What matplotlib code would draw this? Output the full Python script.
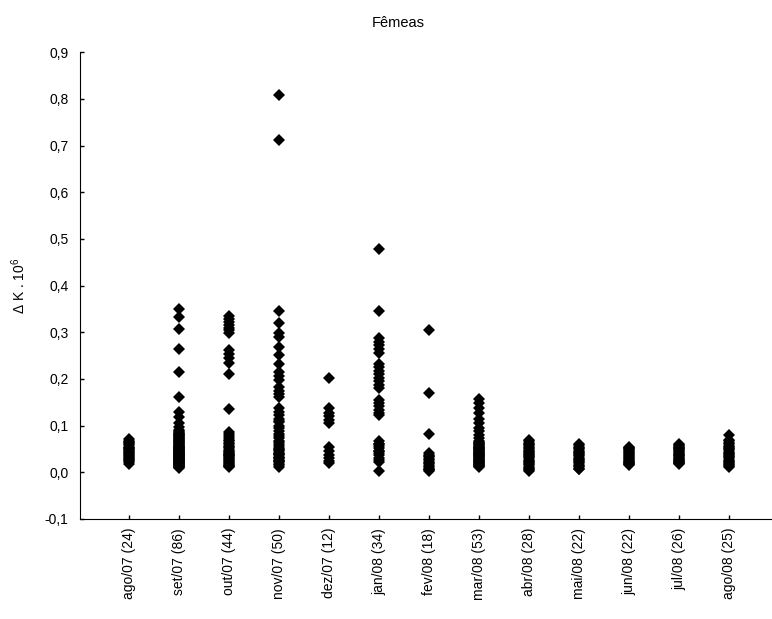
import matplotlib
matplotlib.use('Agg')
import matplotlib.pyplot as plt

plt.rcParams['font.family'] = ['Liberation Sans', 'DejaVu Sans']
plt.rcParams['mathtext.default'] = 'regular'

# categories (month / sample size)
labels = ['ago/07 (24)', 'set/07 (86)', 'out/07 (44)', 'nov/07 (50)', 'dez/07 (12)',
          'jan/08 (34)', 'fev/08 (18)', 'mar/08 (53)', 'abr/08 (28)', 'mai/08 (22)',
          'jun/08 (22)', 'jul/08 (26)', 'ago/08 (25)']

# delta K values
ago07 = [0.071, 0.068, 0.065, 0.062, 0.060, 0.058, 0.055, 0.053, 0.051, 0.049, 0.047, 0.045,
         0.043, 0.041, 0.039, 0.037, 0.035, 0.033, 0.031, 0.029, 0.026, 0.024, 0.021, 0.018]
set07 = [0.350, 0.333, 0.307, 0.265, 0.215, 0.161, 0.130, 0.119, 0.105, 0.098,
         0.090, 0.088, 0.086, 0.085, 0.083, 0.082, 0.080, 0.079, 0.077, 0.076, 0.075, 0.073,
         0.072, 0.071, 0.069, 0.068, 0.067, 0.065, 0.064, 0.063, 0.061, 0.060, 0.059, 0.057,
         0.056, 0.055, 0.053, 0.052, 0.051, 0.050, 0.048, 0.047, 0.046, 0.045, 0.044, 0.043,
         0.042, 0.041, 0.040, 0.039, 0.038, 0.037, 0.036, 0.035, 0.034, 0.033, 0.032, 0.031,
         0.030, 0.029, 0.028, 0.027, 0.026, 0.025, 0.024, 0.023, 0.022, 0.021, 0.020, 0.019,
         0.018, 0.017, 0.016, 0.015, 0.014, 0.013, 0.012, 0.011, 0.010, 0.054, 0.049, 0.043,
         0.037, 0.031, 0.027, 0.022]
out07 = [0.334, 0.328, 0.322, 0.316, 0.310, 0.304, 0.298, 0.262, 0.253, 0.244, 0.235, 0.210,
         0.136, 0.087, 0.082, 0.078, 0.074, 0.070, 0.066, 0.063, 0.060, 0.057, 0.054, 0.051,
         0.048, 0.046, 0.044, 0.042, 0.040, 0.038, 0.036, 0.034, 0.032, 0.030, 0.028, 0.026,
         0.024, 0.022, 0.020, 0.018, 0.016, 0.014, 0.013, 0.012]
nov07 = [0.809, 0.713, 0.346, 0.319, 0.298, 0.290, 0.269, 0.251, 0.233, 0.215, 0.206, 0.198,
         0.183, 0.175, 0.168, 0.162, 0.137, 0.130, 0.122, 0.115, 0.108, 0.100, 0.094, 0.083,
         0.078, 0.073, 0.068, 0.064, 0.060, 0.056, 0.052, 0.048, 0.045, 0.042, 0.039, 0.036,
         0.033, 0.030, 0.027, 0.024, 0.021, 0.018, 0.015, 0.012, 0.110, 0.089, 0.050, 0.040,
         0.031, 0.025]
dez07 = [0.203, 0.137, 0.128, 0.120, 0.112, 0.105, 0.055, 0.046, 0.038, 0.031, 0.025, 0.020]
jan08 = [0.478, 0.345, 0.287, 0.280, 0.272, 0.264, 0.255, 0.232, 0.225, 0.218, 0.210, 0.203,
         0.196, 0.188, 0.180, 0.155, 0.148, 0.141, 0.134, 0.127, 0.122, 0.066, 0.061, 0.056,
         0.051, 0.046, 0.041, 0.036, 0.031, 0.026, 0.022, 0.060, 0.045, 0.003]
fev08 = [0.305, 0.169, 0.083, 0.041, 0.038, 0.035, 0.032, 0.029, 0.026, 0.023, 0.020, 0.017,
         0.014, 0.011, 0.008, 0.006, 0.004, 0.003]
mar08 = [0.158, 0.148, 0.137, 0.126, 0.115, 0.105, 0.095, 0.088, 0.080, 0.073, 0.067,
         0.064, 0.063, 0.061, 0.060, 0.058, 0.057, 0.055, 0.054, 0.052, 0.051, 0.049, 0.048,
         0.046, 0.045, 0.043, 0.042, 0.040, 0.039, 0.037, 0.036, 0.034, 0.033, 0.031, 0.030,
         0.028, 0.027, 0.025, 0.024, 0.022, 0.021, 0.019, 0.018, 0.016, 0.015, 0.014, 0.013,
         0.012, 0.050, 0.041, 0.035, 0.026, 0.020]
abr08 = [0.069, 0.066, 0.063, 0.061, 0.058, 0.056, 0.053, 0.051, 0.048, 0.046, 0.044, 0.041,
         0.039, 0.037, 0.034, 0.032, 0.030, 0.027, 0.025, 0.022, 0.020, 0.017, 0.015, 0.012,
         0.010, 0.007, 0.004, 0.002]
mai08 = [0.061, 0.058, 0.055, 0.052, 0.049, 0.046, 0.044, 0.041, 0.039, 0.036, 0.034, 0.031,
         0.029, 0.026, 0.024, 0.021, 0.019, 0.016, 0.014, 0.011, 0.008, 0.006]
jun08 = [0.055, 0.053, 0.051, 0.049, 0.047, 0.045, 0.043, 0.041, 0.039, 0.037, 0.035, 0.033,
         0.031, 0.029, 0.027, 0.025, 0.023, 0.021, 0.019, 0.018, 0.017, 0.016]
jul08 = [0.061, 0.059, 0.057, 0.055, 0.053, 0.051, 0.049, 0.047, 0.045, 0.043, 0.041, 0.040,
         0.038, 0.036, 0.034, 0.033, 0.031, 0.029, 0.027, 0.026, 0.024, 0.023, 0.022, 0.020,
         0.019, 0.018]
ago08 = [0.080, 0.069, 0.066, 0.063, 0.060, 0.057, 0.055, 0.052, 0.049, 0.047, 0.044, 0.042,
         0.039, 0.037, 0.034, 0.032, 0.030, 0.027, 0.025, 0.022, 0.020, 0.018, 0.016, 0.013,
         0.011]

groups = [ago07, set07, out07, nov07, dez07, jan08, fev08, mar08, abr08, mai08, jun08, jul08, ago08]
yticks = [-0.1, 0.0, 0.1, 0.2, 0.3, 0.4, 0.5, 0.6, 0.7, 0.8, 0.9]

fig = plt.figure(figsize=(7.72, 6.19), dpi=100)
ax = fig.add_axes([0.103, 0.1616, 0.906, 0.754])

for i, vals in enumerate(groups):
    ax.plot([i] * len(vals), vals, 'kD', markersize=6, markeredgewidth=0)

ax.set_xlim(-1, 13)
ax.set_ylim(-0.1, 0.9)
ax.set_xticks(range(len(labels)))
ax.set_xticklabels(labels, rotation=90, fontsize=10)
ax.set_yticks(yticks)
ax.set_yticklabels([('%.1f' % t).replace('.', ',') for t in yticks], fontsize=10)
ax.tick_params(direction='in', length=3, width=1)
ax.tick_params(axis='y', pad=8)
ax.tick_params(axis='x', pad=6.5)
ax.spines['top'].set_visible(False)
ax.spines['right'].set_visible(False)

ax.set_ylabel('\u0394 K . 10$^{6}$', fontsize=10)
ax.yaxis.set_label_coords(-0.0737, 0.5)
fig.text(398 / 772, 1 - 23 / 619, 'Fêmeas', ha='center', va='center', fontsize=10.5)

plt.savefig('out.png')
plt.close()
